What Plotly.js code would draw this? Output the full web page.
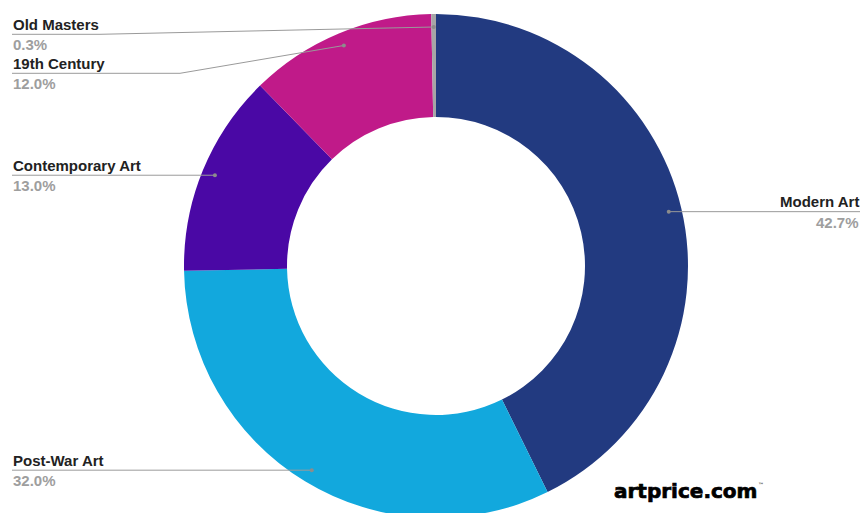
<!DOCTYPE html>
<html>
<head>
<meta charset="utf-8">
<script src="https://cdn.plot.ly/plotly-3.0.1.min.js"></script>
<style>
html,body{margin:0;padding:0;overflow:hidden;background:#fff;}
#chart{width:861px;height:532px;}
g.annotation[data-index="10"] text{stroke:#000 !important;stroke-width:0.7px !important;}
</style>
</head>
<body>
<div id="chart"></div>
<script>
// ---- data ----
var categories = ["Modern Art", "Post-War Art", "Contemporary Art", "19th Century", "Old Masters"];
var shares = [42.7, 32.0, 13.0, 12.0, 0.3];
var percentLabels = ["42.7%", "32.0%", "13.0%", "12.0%", "0.3%"];
var sliceColors = ["#223a80", "#12a8dd", "#4a08a5", "#c01a89", "#a6a6a6"];

// ---- layout geometry (pixels) ----
var W = 861, H = 532;
var CX = 436, CY = 266, R = 252, DOT_R = 239;
function px(x){ return x / W; }
function py(y){ return 1 - y / H; }

// label placement: side, text x, optional elbow
var labelSpec = {
  "Modern Art":       {side: "right", x: 861},
  "Post-War Art":     {side: "left",  x: 11},
  "Contemporary Art": {side: "left",  x: 11},
  "19th Century":     {side: "left",  x: 11, lineY: 73.3, elbowX: 180},
  "Old Masters":      {side: "left",  x: 11, lineY: 34.3, elbowX: 100}
};

var total = shares.reduce(function(a,b){return a+b;}, 0);
var annotations = [], shapes = [];
var cum = 0;
var lineColor = "#9a9a9a";
for (var i = 0; i < categories.length; i++) {
  var mid = (cum + shares[i] / 2) / total * 2 * Math.PI;
  cum += shares[i];
  var dx = CX + DOT_R * Math.sin(mid);
  var dy = CY - DOT_R * Math.cos(mid);
  var spec = labelSpec[categories[i]];
  var L = spec.lineY !== undefined ? spec.lineY : dy;
  // leader line
  if (spec.side === "right") {
    shapes.push({type:"line", xref:"paper", yref:"paper", x0:px(dx), y0:py(dy), x1:px(860), y1:py(dy), line:{color:lineColor, width:1}});
  } else if (spec.elbowX !== undefined) {
    shapes.push({type:"line", xref:"paper", yref:"paper", x0:px(12), y0:py(L), x1:px(spec.elbowX), y1:py(L), line:{color:lineColor, width:1}});
    shapes.push({type:"line", xref:"paper", yref:"paper", x0:px(spec.elbowX), y0:py(L), x1:px(dx), y1:py(dy), line:{color:lineColor, width:1}});
  } else {
    shapes.push({type:"line", xref:"paper", yref:"paper", x0:px(12), y0:py(dy), x1:px(dx), y1:py(dy), line:{color:lineColor, width:1}});
  }
  // dot
  shapes.push({type:"circle", xref:"paper", yref:"paper", x0:px(dx-2), x1:px(dx+2), y0:py(dy-2), y1:py(dy+2), fillcolor:"#8c8c8c", line:{width:0}});
  // texts
  var anchor = spec.side === "right" ? "right" : "left";
  annotations.push({xref:"paper", yref:"paper", x:px(spec.x), y:py(L - 10), xanchor:anchor, yanchor:"middle", showarrow:false,
    text:"<b>" + categories[i] + "</b>", font:{family:"Liberation Sans, Arial, sans-serif", size:15, color:"#222222"}});
  annotations.push({xref:"paper", yref:"paper", x:px(spec.x), y:py(L + 10.5), xanchor:anchor, yanchor:"middle", showarrow:false,
    text:"<b>" + percentLabels[i] + "</b>", font:{family:"Liberation Sans, Arial, sans-serif", size:15, color:"#9e9e9e"}});
}

// logo
annotations.push({xref:"paper", yref:"paper", x:px(612), y:py(491), xanchor:"left", yanchor:"middle", showarrow:false,
  text:"<b>artprice.com</b>", font:{family:"DejaVu Sans, sans-serif", size:20, color:"#000000"}});
annotations.push({xref:"paper", yref:"paper", x:px(756), y:py(484), xanchor:"left", yanchor:"middle", showarrow:false,
  text:"™", font:{family:"DejaVu Sans, sans-serif", size:6, color:"#000000"}});

var trace = {
  type: "pie",
  values: shares,
  labels: categories,
  marker: {colors: sliceColors, line: {width: 0}},
  hole: 149 / 252,
  sort: false,
  direction: "clockwise",
  rotation: 0,
  textinfo: "none",
  hoverinfo: "none",
  showlegend: false,
  domain: {x: [px(CX - R), px(CX + R)], y: [py(CY + R), py(CY - R)]}
};

var layout = {
  width: W, height: H,
  margin: {l:0, r:0, t:0, b:0},
  paper_bgcolor: "#ffffff",
  showlegend: false,
  annotations: annotations,
  shapes: shapes
};

Plotly.newPlot("chart", [trace], layout, {displayModeBar:false, staticPlot:true});
</script>
</body>
</html>
